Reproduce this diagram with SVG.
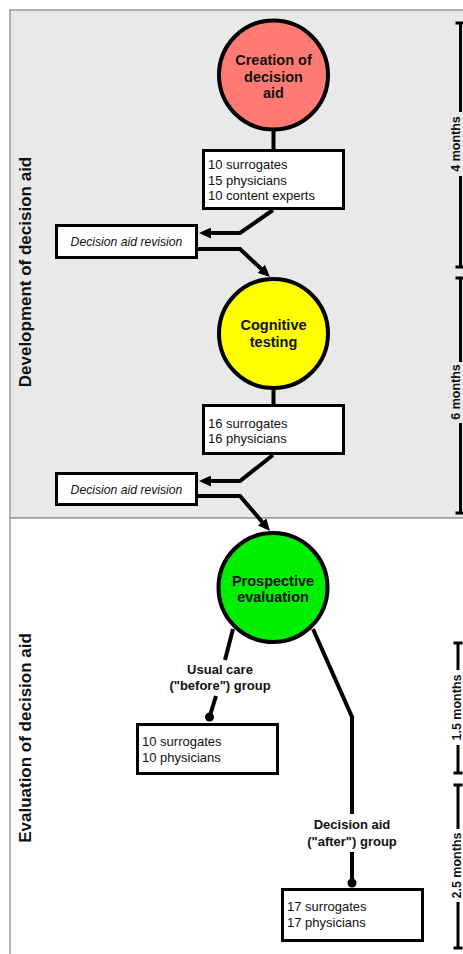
<svg xmlns="http://www.w3.org/2000/svg" width="463" height="954" viewBox="0 0 463 954">
<style>
text{font-family:"Liberation Sans",Arial,Helvetica,sans-serif;fill:#111}
.panel{stroke:#9a9a9a;stroke-width:1.5}
.circ{stroke:#000;stroke-width:4}
.box{fill:#fff;stroke:#000;stroke-width:3}
.ct{font-size:14.5px;font-weight:bold;text-anchor:middle}
.bt{font-size:13px}
.rt{font-size:12.2px;font-style:italic;text-anchor:middle}
.lt{font-size:13px;font-weight:bold;text-anchor:middle}
.side{font-size:17px;font-weight:bold;text-anchor:middle}
.tl{font-size:12.5px;font-weight:bold;text-anchor:middle}
.con{fill:none;stroke:#000;stroke-width:4;stroke-linejoin:miter}
.bar{fill:none;stroke:#000;stroke-width:3}
</style>
<defs>
<marker id="arr" markerUnits="userSpaceOnUse" markerWidth="12" markerHeight="11" viewBox="0 0 12 11" refX="7" refY="5.5" orient="auto">
<path d="M0,0 L12,5.5 L0,11 Z" fill="#000"/>
</marker>
</defs>
<g id="panels">
<rect class="panel" x="10" y="10" width="470" height="508" fill="#e9e9e9"/>
<rect class="panel" x="10" y="518" width="470" height="450" fill="#fff"/>
</g>
<g id="side-labels">
<text class="side" transform="translate(31,272) rotate(-90)">Development of decision aid</text>
<text class="side" transform="translate(31,738) rotate(-90)">Evaluation of decision aid</text>
</g>
<g id="timeline">
<path class="bar" d="M460.5,23 V112 M460.5,176 V267 M455.5,23 H465 M455.5,267 H465"/>
<text class="tl" transform="translate(460,144) rotate(-90)">4 months</text>
<path class="bar" d="M460.5,278 V362 M460.5,423 V513 M455.5,278 H465 M455.5,513 H465"/>
<text class="tl" transform="translate(460,392) rotate(-90)">6 months</text>
<path class="bar" d="M458,643 V670 M458,745 V773 M453.5,643 H462.5 M453.5,773 H462.5"/>
<text class="tl" transform="translate(461,707.5) rotate(-90)">1.5 months</text>
<path class="bar" d="M458,785 V829 M458,902 V948 M453.5,785 H462.5 M453.5,948 H462.5"/>
<text class="tl" transform="translate(461,865.5) rotate(-90)">2.5 months</text>
</g>
<g id="connectors">
<path class="con" d="M273.5,130 V149"/>
<path class="con" d="M273,210 L240,233 H204" marker-end="url(#arr)"/>
<path class="con" d="M198,249 H240 L266.3,273.6" marker-end="url(#arr)"/>
<path class="con" d="M273.5,390 V404"/>
<path class="con" d="M273,455 L240,481 H204" marker-end="url(#arr)"/>
<path class="con" d="M198,496 H240 L266.7,527.2" marker-end="url(#arr)"/>
<path class="con" d="M233,629 L225,660"/>
<path class="con" d="M216,696 L209.5,717"/>
<circle cx="209.5" cy="717" r="4.5" fill="#000"/>
<path class="con" d="M313,629 L352,717 V814"/>
<path class="con" d="M352,852 V883"/>
<circle cx="352" cy="883" r="4.5" fill="#000"/>
</g>
<g id="creation">
<circle class="circ" cx="273.5" cy="75" r="54.5" fill="#ff7a72"/>
<text class="ct" x="273.5" y="65">Creation of</text>
<text class="ct" x="273.5" y="82">decision</text>
<text class="ct" x="273.5" y="98">aid</text>
</g>
<g id="box1">
<rect class="box" x="203.5" y="150.5" width="140" height="58"/>
<text class="bt" x="208" y="168.5">10 surrogates</text>
<text class="bt" x="208" y="184.5">15 physicians</text>
<text class="bt" x="208" y="200">10 content experts</text>
</g>
<g id="revision1">
<rect class="box" x="56.5" y="225.5" width="140" height="32"/>
<text class="rt" x="126.5" y="246">Decision aid revision</text>
</g>
<g id="cognitive">
<circle class="circ" cx="273.5" cy="333.5" r="54.5" fill="#ffff00"/>
<text class="ct" x="273.5" y="329.5">Cognitive</text>
<text class="ct" x="273.5" y="347">testing</text>
</g>
<g id="box2">
<rect class="box" x="203.5" y="405.5" width="140" height="48"/>
<text class="bt" x="208" y="427.5">16 surrogates</text>
<text class="bt" x="208" y="443">16 physicians</text>
</g>
<g id="revision2">
<rect class="box" x="56.5" y="473.5" width="140" height="31"/>
<text class="rt" x="126.5" y="493.5">Decision aid revision</text>
</g>
<g id="prospective">
<circle class="circ" cx="273" cy="587.5" r="54.5" fill="#00ee00"/>
<text class="ct" x="273" y="585.5">Prospective</text>
<text class="ct" x="273" y="601.5">evaluation</text>
</g>
<g id="usual-label">
<text class="lt" x="220" y="674">Usual care</text>
<text class="lt" x="220" y="690">("before") group</text>
</g>
<g id="box3">
<rect class="box" x="137.5" y="724.5" width="140" height="49"/>
<text class="bt" x="142" y="746">10 surrogates</text>
<text class="bt" x="142" y="761.5">10 physicians</text>
</g>
<g id="aid-label">
<text class="lt" x="352" y="829">Decision aid</text>
<text class="lt" x="352" y="846">("after") group</text>
</g>
<g id="box4">
<rect class="box" x="282.5" y="889.5" width="140" height="51"/>
<text class="bt" x="287" y="911">17 surrogates</text>
<text class="bt" x="287" y="927">17 physicians</text>
</g>
</svg>
